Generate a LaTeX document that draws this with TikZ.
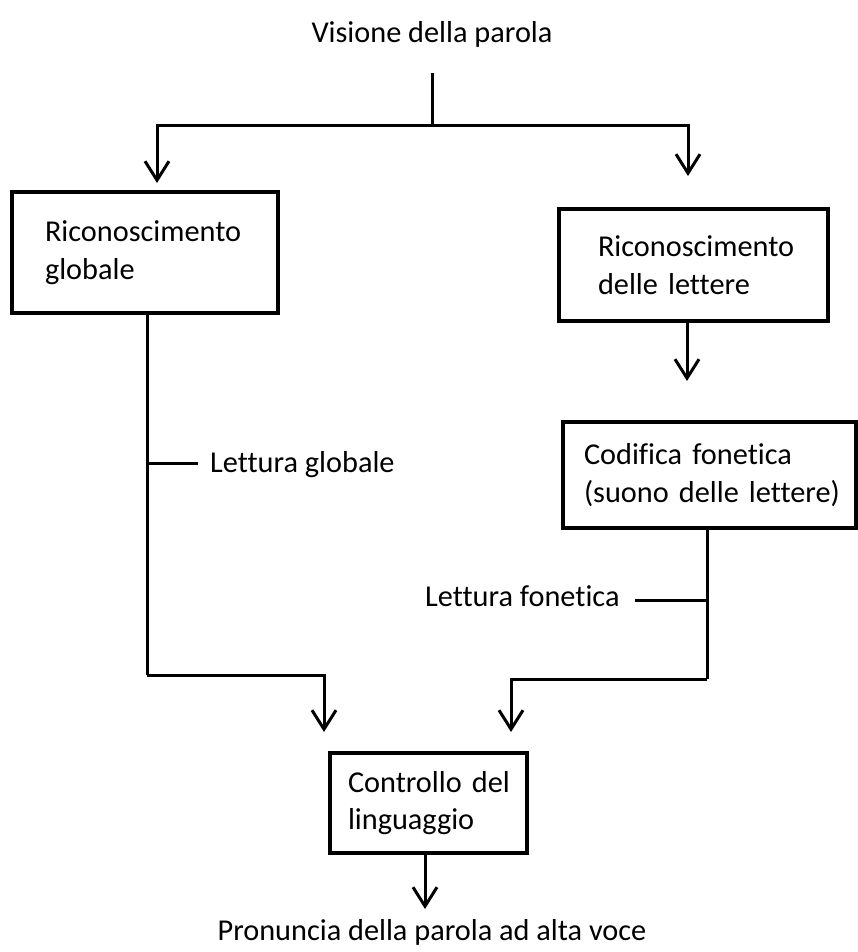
\documentclass[tikz,border=0pt]{standalone}
\usepackage{fontspec}
\setmainfont{Carlito}[Ligatures={NoCommon}]
\usetikzlibrary{arrows.meta}
\newcommand{\ml}[1]{\mbox{#1}}
\begin{document}
\begin{tikzpicture}[x=1pt,y=-1pt,
  every node/.style={font=\fontsize{30.3}{37.5}\selectfont},
  box/.style={draw, line width=3.2pt, align=left, inner ysep=0pt},
  conn/.style={line width=3pt},
  arr/.style={conn, -{Straight Barb[length=19pt,width=24pt,line width=3pt]}},
  lbl/.style={inner sep=0pt, anchor=west}]
\useasboundingbox (0,0) rectangle (858,952);
% text nodes
\node (title) at (432,34) {Visione della parola};
\node[box, minimum height=121pt, inner xsep=33pt, text width=200pt] (glob) at (145,252.5) {\ml{Riconoscimento}\\\ml{globale}};
\node[box, minimum height=112pt, inner xsep=39pt, text width=191pt] (lett) at (693.5,265) {\ml{Riconoscimento}\\\ml{delle lettere}};
\node[box, minimum height=106pt, inner xsep=21pt, text width=251pt] (cod) at (709.5,475) {\ml{Codifica fonetica}\\\ml{(suono delle lettere)}};
\node[box, minimum height=100pt, inner xsep=18pt, text width=161pt] (ctrl) at (428.5,803) {\ml{Controllo del}\\\ml{linguaggio}};
\node (out) at (432,932) {Pronuncia della parola ad alta voce};
\node[lbl] (lg) at (210,465) {Lettura globale};
\node[lbl] (lf) at (425,596) {Lettura fonetica};
% coordinates
\coordinate (t0) at (432,73);
\coordinate (split) at (432,126);
\coordinate (ltip) at (157,183);
\coordinate (rtip) at (688,176);
\coordinate (mtip) at (687,381);
\coordinate (gl) at (147,313);
\coordinate (gcorner) at (147,675);
\coordinate (gtick) at (147,463);
\coordinate (ltip2) at (324,732);
\coordinate (cl) at (707,528);
\coordinate (ccorner) at (707,679);
\coordinate (ctick) at (707,600);
\coordinate (rtip2) at (511,732);
\coordinate (otip) at (425,909);
% connectors
\draw[conn] (t0) -- (split);
\draw[arr] (split) -| (ltip);
\draw[arr] (split) -| (rtip);
\draw[arr] (lett.south -| mtip) -- (mtip);
\draw[conn] (gl) -- (gcorner);
\draw[arr] (gcorner) -| (ltip2);
\draw[conn] (gtick) -- ([xshift=-12pt]lg.west |- gtick);
\draw[conn] (cl) -- (ccorner);
\draw[arr] (ccorner) -| (rtip2);
\draw[conn] (ctick) -- ([xshift=15pt]lf.east |- ctick);
\draw[arr] (ctrl.south -| otip) -- (otip);
\end{tikzpicture}
\end{document}
